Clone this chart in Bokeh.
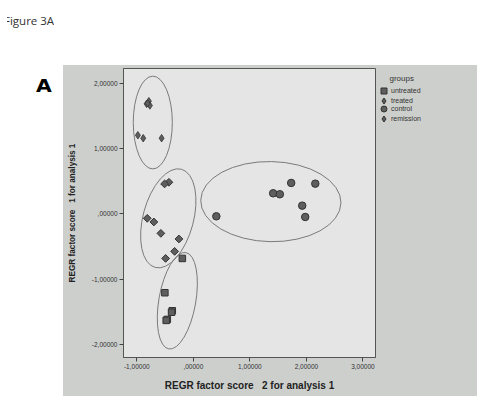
from bokeh.plotting import figure
from bokeh.models import Div, Legend, LegendItem, FixedTicker, Range1d, Label
from bokeh.layouts import column, row
from bokeh.embed import file_html
from bokeh.resources import INLINE

# ---- data ----
untreated_x = [-0.194, -0.503, -0.372, -0.385, -0.460, -0.480]
untreated_y = [-0.683, -1.210, -1.487, -1.510, -1.620, -1.635]

treated_x = [-0.432, -0.508, -0.815, -0.698, -0.574, -0.255, -0.331, -0.490]
treated_y = [0.487, 0.462, -0.067, -0.123, -0.298, -0.384, -0.575, -0.683]

control_x = [0.407, 1.412, 1.530, 1.731, 2.157, 1.926, 1.979]
control_y = [-0.036, 0.318, 0.303, 0.477, 0.466, 0.128, -0.046]

remission_x = [-0.826, -0.786, -0.768, -0.810, -0.981, -0.886, -0.561]
remission_y = [1.692, 1.733, 1.667, 1.700, 1.210, 1.164, 1.164]

# ellipses drawn around the groups: remission, treated, untreated, control
ell_x = [-0.717, -0.443, -0.283, 1.371]
ell_y = [1.405, -0.067, -1.333, 0.190]
ell_w = [0.691, 0.893, 0.652, 2.481]
ell_h = [1.426, 1.563, 1.505, 1.231]
ell_angle = [0.0, -0.26, -0.175, -0.02]

x_ticks = [-1, 0, 1, 2, 3]
x_tick_labels = ["-1,00000", ",00000", "1,00000", "2,00000", "3,00000"]
y_ticks = [-2, -1, 0, 1, 2]
y_tick_labels = ["-2,00000", "-1,00000", ",00000", "1,00000", "2,00000"]

group_names = ["untreated", "treated", "control", "remission"]
legend_markers = ["square", "diamond", "circle", "diamond"]
legend_title = "groups"

FONT = "Liberation Sans"
PANEL = "#cdcfcd"
INNER = "#e5e5e5"
MFILL = "#5e5e5e"
MLINE = "#333333"
TOP, BOTTOM = 3, 39

p = figure(width=313, height=331, output_backend="svg", toolbar_location=None,
           x_range=Range1d(-1.235, 3.222), y_range=Range1d(-2.205, 2.235),
           min_border_left=60, min_border_right=1, min_border_top=TOP, min_border_bottom=BOTTOM)
p.border_fill_color = PANEL
p.background_fill_color = INNER
p.outline_line_color = "#555555"
p.outline_line_width = 1
p.grid.visible = False
p.styles = {"background-color": PANEL}

for ax, ticks, labels in [(p.xaxis[0], x_ticks, x_tick_labels), (p.yaxis[0], y_ticks, y_tick_labels)]:
    ax.ticker = FixedTicker(ticks=ticks)
    ax.major_label_overrides = {t: l for t, l in zip(ticks, labels)}
    ax.minor_tick_line_color = None
    ax.major_tick_in = 0
    ax.major_tick_out = 4
    ax.major_tick_line_color = "#444444"
    ax.axis_line_color = "#555555"
    ax.major_label_text_font = FONT
    ax.major_label_text_font_size = "6.5px"
    ax.major_label_text_color = "#333333"
    ax.major_label_standoff = 2
    ax.axis_label_text_font = FONT
    ax.axis_label_text_font_style = "bold"
    ax.axis_label_text_color = "#222222"

p.xaxis.axis_label = "REGR factor score\u00a0\u00a0 2 for analysis 1"
p.yaxis.axis_label = "REGR factor score\u00a0\u00a0 1 for analysis 1"
p.xaxis.axis_label_text_font_size = "10px"
p.yaxis.axis_label_text_font_size = "8.2px"
p.xaxis.axis_label_standoff = 8
p.yaxis.axis_label_standoff = 12

p.ellipse(x=ell_x, y=ell_y, width=ell_w, height=ell_h, angle=ell_angle,
          fill_color=None, line_color="#7a7a7a", line_width=1)

p.scatter(untreated_x, untreated_y, marker="square", size=6.5,
          fill_color=MFILL, line_color=MLINE, line_width=1)
p.scatter(treated_x, treated_y, marker="square", angle=0.785398, size=5.5,
          fill_color=MFILL, line_color=MLINE, line_width=1)
p.scatter(control_x, control_y, marker="circle", size=7.5,
          fill_color=MFILL, line_color=MLINE, line_width=1)
p.scatter(remission_x, remission_y, marker="diamond", size=7.5,
          fill_color=MFILL, line_color=MLINE, line_width=0.8)

# legend panel (right part of the grey chart area)
p_leg = figure(width=101, height=331, output_backend="svg", toolbar_location=None,
               x_range=Range1d(0, 1), y_range=Range1d(0, 1),
               x_axis_type=None, y_axis_type=None,
               min_border_left=0, min_border_right=0, min_border_top=TOP, min_border_bottom=BOTTOM)
p_leg.border_fill_color = PANEL
p_leg.background_fill_color = PANEL
p_leg.outline_line_color = None
p_leg.grid.visible = False
p_leg.styles = {"background-color": PANEL}

frame_h = 331 - TOP - BOTTOM
p_leg.add_layout(Label(x=13, y=frame_h - 9.7, x_units="screen", y_units="screen",
                       text=legend_title, text_font=FONT, text_font_size="8px",
                       text_color="#333333", text_baseline="middle", text_align="left"))

# one small legend per group so that rows sit close together while the glyphs stay large
row_tops = [14.2, 23.5, 32.2, 42.2]       # px below the frame top (layout only)
for name, m, top in zip(group_names, legend_markers, row_tops):
    r = p_leg.scatter(x=[-100], y=[-100], marker=m, size=6,
                      fill_color=MFILL, line_color=MLINE, line_width=1)
    leg = Legend(items=[LegendItem(label=name, renderers=[r])],
                 location=(0, frame_h - top - 17))
    leg.label_text_font = FONT
    leg.label_text_font_size = "7px"
    leg.label_text_color = "#333333"
    leg.label_height = 17
    leg.glyph_height = 17
    leg.glyph_width = 15
    leg.label_standoff = 0
    leg.spacing = 0
    leg.margin = 0
    leg.padding = 0
    leg.border_line_color = None
    leg.background_fill_alpha = 0
    p_leg.add_layout(leg, "center")

fig_title = Div(text='<div style="margin-left:7px;overflow:hidden;white-space:nowrap">'
                     '<span style="margin-left:-3px">Figure 3A</span></div>',
                width=488, height=65, margin=0,
                styles={"font-family": "Open Sans", "font-size": "11.5px", "color": "#333333",
                        "padding-top": "13px", "box-sizing": "border-box"})
panel_label = Div(text='<span style="display:inline-block;transform:scaleX(1.2);transform-origin:left">A</span>',
                  width=63, height=331, margin=0,
                  styles={"font-family": "DejaVu Sans", "font-weight": "bold", "font-size": "17px",
                          "color": "#000000", "padding-left": "36px", "padding-top": "9px",
                          "box-sizing": "border-box"})

layout = column(fig_title, row(panel_label, p, p_leg, spacing=0), spacing=0)

open("out.html", "w").write(file_html(layout, INLINE))
